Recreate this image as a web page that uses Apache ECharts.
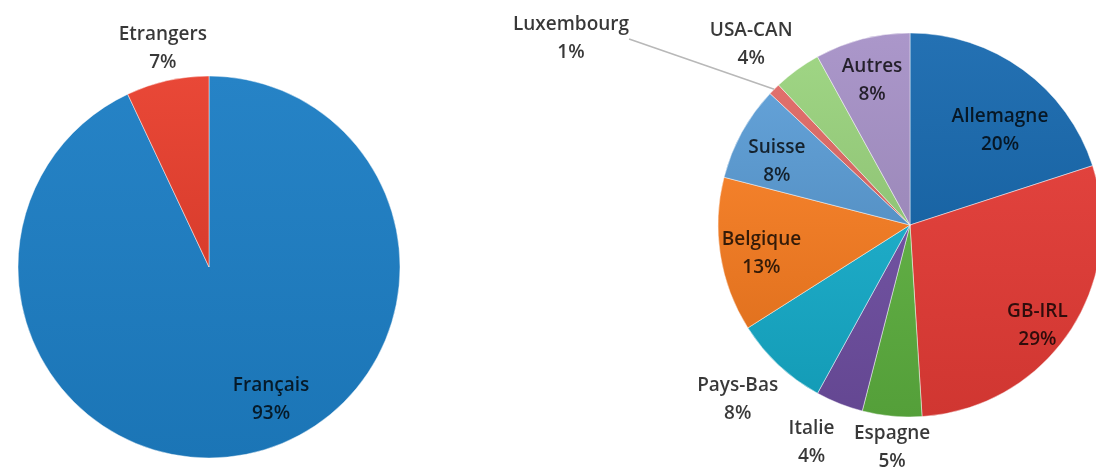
<!DOCTYPE html>
<html>
<head>
<meta charset="utf-8">
<script src="https://cdn.jsdelivr.net/npm/echarts@6/dist/echarts.min.js"></script>
<style>
  html, body { margin: 0; padding: 0; background: #ffffff; }
  #chart { width: 1096px; height: 472px; }
</style>
</head>
<body>
<div id="chart"></div>
<script>
// Visitors: French vs. foreign (percent)
const originCategories = ['Français', 'Etrangers'];
const originValues = [93, 7];

// Foreign visitors by country of origin (percent)
const countryCategories = ['Allemagne', 'GB-IRL', 'Espagne', 'Italie', 'Pays-Bas',
  'Belgique', 'Suisse', 'Luxembourg', 'USA-CAN', 'Autres'];
const countryValues = [20, 29, 5, 4, 8, 13, 8, 1, 4, 8];

const originColors = ['#1d7ec4', '#e8402f'];
const countryColors = ['#1b6bb0', '#e03a35', '#5aab3d', '#6b4c9d', '#15a8c5',
  '#f37b21', '#5c9dd5', '#e06a66', '#9bd37f', '#a893c8'];

// Where each slice label goes: 'in' = inside the slice, 'out' = just outside,
// 'lead' = far away with a leader line
const originLabelStyle = {
  'Français': { pos: 'in', offset: [28, -20] },
  'Etrangers': { pos: 'out', offset: [4, 6] }
};
const countryLabelStyle = {
  'Allemagne': { pos: 'in', offset: [-2, 32] },
  'GB-IRL': { pos: 'in', offset: [-2, 13] },
  'Espagne': { pos: 'out', offset: [5, -19] },
  'Italie': { pos: 'out', offset: [-9, -8] },
  'Pays-Bas': { pos: 'out', offset: [-6, -3] },
  'Belgique': { pos: 'in', offset: [6, 4] },
  'Suisse': { pos: 'in', offset: [4, 12] },
  'Luxembourg': { pos: 'lead', at: [571, 39] },
  'USA-CAN': { pos: 'out', offset: [-16, 16] },
  'Autres': { pos: 'in', offset: [1, 7] }
};

const textStyle = {
  fontFamily: 'Open Sans',
  fontSize: 19,
  fontWeight: 600,
  lineHeight: 28,
  color: 'rgba(0,0,0,0.78)',
  textBorderWidth: 0,
  align: 'center',
  formatter: '{b}\n{c}%'
};

function shade(hex, f) {
  const n = parseInt(hex.slice(1), 16);
  const ch = [n >> 16, (n >> 8) & 255, n & 255];
  const t = f < 0 ? 0 : 255, p = Math.abs(f);
  const out = ch.map(c => Math.round((t - c) * p + c));
  return 'rgb(' + out.join(',') + ')';
}

function fill(hex) {
  return {
    type: 'linear', x: 0, y: 0, x2: 0, y2: 1,
    colorStops: [
      { offset: 0, color: shade(hex, 0.04) },
      { offset: 1, color: shade(hex, -0.07) }
    ]
  };
}

// Coloured pie; only leader-line labels are drawn by this series
function slicesSeries(center, r, cats, vals, colors, styles) {
  return {
    type: 'pie',
    center: center,
    radius: [0, r],
    startAngle: 90,
    clockwise: true,
    avoidLabelOverlap: false,
    animation: false,
    silent: true,
    itemStyle: { borderColor: 'rgba(255,255,255,0.45)', borderWidth: 1 },
    label: { show: false },
    labelLine: { show: false },
    data: cats.map((name, i) => {
      const item = { name: name, value: vals[i], itemStyle: { color: fill(colors[i]) } };
      if (styles[name].pos === 'lead') {
        item.label = Object.assign({ show: true, position: 'outside' }, textStyle);
        item.labelLine = {
          show: true, length: 10, length2: 0,
          lineStyle: { color: '#b8b8b8', width: 1.5 }
        };
      }
      return item;
    }),
    labelLayout: function (params) {
      const st = styles[cats[params.dataIndex]];
      if (st && st.pos === 'lead') {
        return { x: st.at[0], y: st.at[1], align: 'center', verticalAlign: 'middle' };
      }
      return null;
    }
  };
}

// Transparent ring that only carries labels, centred in the ring band
function labelRing(center, r0, r1, cats, vals, styles, which) {
  return {
    type: 'pie',
    center: center,
    radius: [r0, r1],
    startAngle: 90,
    clockwise: true,
    avoidLabelOverlap: false,
    animation: false,
    silent: true,
    label: Object.assign({ show: true, position: 'inside' }, textStyle),
    labelLine: { show: false },
    data: cats.map((name, i) => ({
      name: name,
      value: vals[i],
      itemStyle: { color: 'rgba(0,0,0,0)', borderWidth: 0 },
      label: { show: styles[name].pos === which, offset: styles[name].offset || [0, 0] }
    }))
  };
}

const leftCenter = [209, 267], leftR = 191;
const rightCenter = [910, 225], rightR = 192;

const chart = echarts.init(document.getElementById('chart'), null, { renderer: 'canvas' });
chart.setOption({
  backgroundColor: '#ffffff',
  animation: false,
  series: [
    slicesSeries(leftCenter, leftR, originCategories, originValues, originColors, originLabelStyle),
    labelRing(leftCenter, 115, leftR, originCategories, originValues, originLabelStyle, 'in'),
    labelRing(leftCenter, leftR, 263, originCategories, originValues, originLabelStyle, 'out'),
    slicesSeries(rightCenter, rightR, countryCategories, countryValues, countryColors, countryLabelStyle),
    labelRing(rightCenter, 115, rightR, countryCategories, countryValues, countryLabelStyle, 'in'),
    labelRing(rightCenter, rightR, 288, countryCategories, countryValues, countryLabelStyle, 'out')
  ]
});
</script>
</body>
</html>
